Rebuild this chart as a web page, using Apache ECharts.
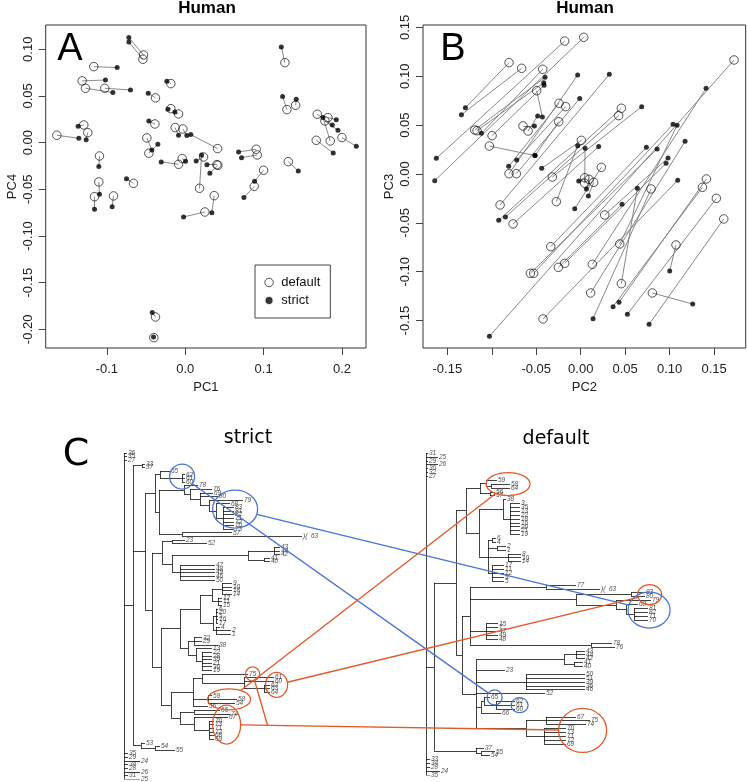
<!DOCTYPE html>
<html><head><meta charset="utf-8">
<script src="https://cdn.jsdelivr.net/npm/echarts@6/dist/echarts.min.js"></script>
<style>html,body{margin:0;padding:0;background:#fff}#c{width:747px;height:782px}</style>
</head><body><div id="c"></div>
<script>
// ---------------- Panel A : PC1 vs PC4 (paired samples) ----------------
const aDefaultPC1 = [-0.0532,-0.0540,-0.1166,-0.1315,-0.1272,-0.1026,-0.0379,-0.0183,-0.0183,-0.0085,-0.0387,-0.0128,-0.0030,0.0413,-0.0489,-0.0464,-0.1638,-0.1294,-0.1243,-0.1094,-0.1102,-0.1157,-0.0915,-0.0660,-0.0085,-0.0038,0.0183,0.0234,0.0417,0.0404,0.0251,0.0370,0.0906,0.0919,0.1000,0.0881,0.1272,0.1298,0.1409,0.1315,0.1685,0.1821,0.1851,0.2000,0.1672,0.1783,-0.0379,-0.0400];
const aDefaultPC4 = [0.0939,0.0893,0.0814,0.0661,0.0582,0.0582,0.0479,0.0632,0.0364,0.0307,0.0200,0.0161,0.0146,-0.0064,0.0050,-0.0114,0.0079,0.0189,0.0107,-0.0143,-0.0421,-0.0579,-0.0571,-0.0436,-0.0232,-0.0171,-0.0489,-0.0154,-0.0243,-0.0236,-0.0743,-0.0568,-0.0071,-0.0132,-0.0296,-0.0468,0.0857,0.0354,0.0400,-0.0204,0.0304,0.0268,0.0018,0.0054,0.0025,0.0232,-0.1868,-0.2089];
const aStrictPC1 = [-0.0719,-0.0719,-0.0868,-0.1017,-0.0923,-0.0698,-0.0472,-0.0234,-0.0221,-0.0132,-0.0464,-0.0085,0.0021,0.0072,-0.0426,-0.0349,-0.1357,-0.1366,-0.1264,-0.1102,-0.1094,-0.1157,-0.0932,-0.0749,-0.0306,0.0004,0.0209,0.0140,0.0315,0.0277,-0.0021,0.0340,0.0681,0.0719,0.0885,0.0749,0.1226,0.1243,0.1417,0.1443,0.1877,0.1928,0.1757,0.2183,0.1889,0.1949,-0.0421,-0.0404];
const aStrictPC4 = [0.1125,0.1079,0.0804,0.0671,0.0536,0.0564,0.0529,0.0657,0.0357,0.0329,0.0232,0.0079,0.0075,0.0086,-0.0079,-0.0018,0.0046,0.0175,0.0032,-0.0257,-0.0554,-0.0714,-0.0686,-0.0386,-0.0207,-0.0200,-0.0132,-0.0196,-0.0329,-0.0236,-0.0796,-0.0750,-0.0100,-0.0161,-0.0414,-0.0589,0.1025,0.0493,0.0464,-0.0304,0.0189,0.0246,0.0268,-0.0039,-0.0111,0.0132,-0.1821,-0.2082];
const aXTicks = [-0.1,0,0.1,0.2];
const aYTicks = [-0.2,-0.15,-0.1,-0.05,0,0.05,0.1];

// ---------------- Panel B : PC2 vs PC3 (paired samples) ----------------
const bDefaultPC2 = [-0.0180,0.0034,-0.0806,-0.0664,-0.0427,0.1725,-0.0495,-0.1192,-0.1166,-0.0997,-0.1027,-0.0649,-0.0592,-0.0244,-0.0169,-0.0247,0.0457,0.0427,0.0007,-0.0806,-0.0724,-0.0319,0.0232,0.0045,0.0094,0.0146,0.0045,-0.0907,-0.0274,-0.0761,0.0270,0.0791,0.1414,0.1369,0.1526,0.1609,-0.0337,0.0439,0.1072,-0.0566,-0.0529,-0.0251,-0.0180,0.0131,0.0457,0.0112,0.0806,-0.0424];
const bDefaultPC3 = [0.1360,0.1398,0.1139,0.1081,0.1071,0.1166,0.0852,0.0450,0.0443,0.0392,0.0286,0.0491,0.0440,0.0723,0.0689,0.0535,0.0672,0.0597,0.0344,0.0003,0.0003,-0.0031,0.0068,-0.0038,-0.0055,-0.0085,-0.0095,-0.0317,-0.0283,-0.0511,-0.0419,-0.0153,-0.0051,-0.0136,-0.0249,-0.0460,-0.0743,-0.0716,-0.0726,-0.1016,-0.1016,-0.0955,-0.0914,-0.0924,-0.1122,-0.1217,-0.1217,-0.1483];
const bStrictPC2 = [-0.1624,-0.1642,-0.1297,-0.1342,-0.1117,-0.1027,-0.0431,-0.0401,-0.0416,-0.0412,-0.0514,-0.0521,-0.0484,-0.0810,-0.0720,-0.0514,-0.0922,-0.0847,-0.0439,-0.0034,-0.0011,0.0686,-0.0067,-0.0022,0.0064,0.0086,0.0049,0.0322,-0.0034,0.0202,0.0982,0.0139,0.0431,0.0364,0.0525,0.0769,0.0739,0.1084,0.1001,0.0859,0.1039,0.0465,0.0960,0.1410,0.0637,0.1174,0.1260,0.1091];
const bStrictPC3 = [0.0160,-0.0068,0.0678,0.0607,0.0416,-0.1660,0.0583,0.0989,0.0934,0.0907,0.0188,0.0491,0.0593,0.0078,0.0143,0.0188,-0.0474,-0.0440,0.0058,0.1013,0.0771,0.0689,-0.0355,-0.0072,-0.0153,-0.0225,0.0263,0.1019,0.0290,0.0280,0.0164,-0.1480,-0.1313,-0.1357,-0.1435,-0.1538,0.0273,0.0498,-0.0992,0.0256,0.0508,-0.0310,0.0109,0.0876,-0.0147,0.0334,-0.1330,-0.0065];
const bXTicks = [-0.15,-0.1,-0.05,0,0.05,0.1,0.15];
const bXLabels = [-0.15,-0.05,0,0.05,0.1,0.15];
const bYTicks = [-0.15,-0.1,-0.05,0,0.05,0.1,0.15];

// ---------------- Panel C : dendrograms (node = [depth, children...], leaf = "label@tipDepth", "!" = broken branch) ----------------
const strictTree = [0,
 "36@3","35@3","27@3",
 [9,
   [18,"33@21","37@21"],
   [21,
     [31,
       [36,"65@46",[58,"62@61","61@61","60@61"]],
       [35,
         [60,"78@74",
           [66,"76@88",
             [76,"69@89","80@94",
               [85,"79@119",
                 [92,"68@106",
                   [99,"83@110","81@110","82@110","71@110","72@110","70@110","73@110"]]]]]],
         [58,"57@108","63@178!"]]],
     [28,
       [38,
         [48,"23@61","52@83"],
         [48,
           [124,[150,"43@156","44@156","42@156"],[140,"41@146","40@146"]],
           [56,"47@91","48@91","49@91","46@91","50@91"]]],
       [37,
         [56,
           [76,
             [88,[98,"9@108","10@108","18@108","14@108"],[94,"12@98","11@98","15@98"]],
             [89,[92,"6@94","20@94","5@94","16@94","17@94"],[92,"4@96","2@107","1@107"]]],
           [64,
             [70,"32@78","29@78","38@94"],
             [72,"13@88",[78,"22@88","28@88","39@88","21@88","30@88","19@88"]]]],
         [47,
           [69,
             [78,"75@124",[120,"61@150","60@150",[140,"62@146","63@146","64@146"]]],
             [84,"59@88","58@113","54@111"],
             "56@84"],
           [56,
             [70,"66@96","74@106"],
             [70,"67@104",[85,"70@90","73@90","71@90","72@90","68@90","69@90"]]]]]]],
   [17,"53@21",[31,"54@36","55@51"]]],
 "35@4","29@4","24@16","34@4","28@4","26@16","31@4","25@16"];

const defaultTree = [0,
 "31@2","25@12","29@2","26@12","30@2","32@2","27@2",
 [8,
   [30,
     [40,
       [54,[60,"59@71",[65,"58@84","64@84"]],[64,"56@69","57@69"]],
       [53,
         [77,"38@80",[84,"3@94","35@94","13@94","22@94","18@94","16@94","20@94","21@94","19@94"]],
         [62,[66,"6@70","4@70"],[71,"2@80","1@80"],[82,"8@95","10@95","14@95"],[66,"17@78","11@78","12@78","9@78","5@78"]]]],
     [36,
       [44,
         [120,"77@150","63@174!"],
         [150,
           [205,"83@219","80@219"],
           [190,"79@225",[200,"68@212",[208,"81@222","82@222","71@222","70@222"]]]],
         [60,"15@72","7@72","47@72","49@72","48@72"],
         [165,"78@186","76@189"]],
       [50,
         [138,[150,"43@159","44@159","42@159"],[148,"41@157","40@157"]],
         "23@79",
         [100,"50@159","51@159","39@159","36@159","46@159"],
         "52@119",
         [55,[58,"65@64",[70,"62@89","61@89","60@89"]],"66@75"],
         [100,[120,"67@150","75@164","74@160"],[118,"70@140","73@140","71@140","72@140","69@140"]]]]],
   [50,"37@58",[55,"55@69","54@64"]]],
 "33@4","34@4","28@4","24@14","35@4"];

// highlighted clades (contiguous leaf runs) and the links between the two trees
const strictGroups = {
  sBlueSmall: ['65','62','61','60'],
  sBlueBig: ['80','79','68','83','81','82','71','72'],
  sOrangeTiny: ['75'],
  sOrangeMid: ['61','60','62','63','64'],
  sOrange59: ['59','58','54'],
  sOrangeBig: ['66','74','67','70','73','71','72','68','69']
};
const defaultGroups = {
  dOrangeTop: ['59','58','64'],
  dOrangeSmall: ['83','80'],
  dBlueBig: ['79','68','81','82','71','70'],
  dBlueSmall1: ['65'],
  dBlueSmall2: ['62','61','60'],
  dOrangeBig: ['67','75','74','70','73','71','72','69']
};
const links = [
  ['sBlueSmall','dBlueSmall1','blue'],
  ['sBlueBig','dBlueBig','blue'],
  ['sOrange59','dOrangeTop','orange'],
  ['sOrangeMid','dOrangeSmall','orange'],
  ['sOrangeBig','dOrangeBig','orange']
];
const dropLinks = [['sOrangeTiny','sOrangeBig','dOrangeBig','orange']];

// ---------------- styles ----------------
const FONT = '"Liberation Sans", Arial, sans-serif';
const COLORS = {blue:'#4a74cf', orange:'#e35a2a'};
const groupSize = {
  sBlueSmall:[25,25], sBlueBig:[45,38], sOrangeTiny:[14,14], sOrangeMid:[22,25], sOrange59:[43,21], sOrangeBig:[28,39],
  dOrangeTop:[44,23], dOrangeSmall:[24,20], dBlueBig:[42,36], dBlueSmall1:[15,15], dBlueSmall2:[17,15], dOrangeBig:[48,44]
};
const LABEL_FS = 6.5, CHAR_W = 3.6;

function layoutTree(tree){
  const leaves=[], segs=[];
  function walk(node){
    if (typeof node === 'string'){
      const m = node.match(/^(\w+)@([\d.]+)(!?)$/);
      const lf = {label:m[1], x:+m[2], y:leaves.length, brk:m[3]==='!'};
      leaves.push(lf); return lf;
    }
    const d = node[0];
    const kids = node.slice(1).map(walk);
    kids.forEach(k => segs.push([[d,k.y],[k.x,k.y]]));
    const y0 = kids[0].y, y1 = kids[kids.length-1].y;
    segs.push([[d,y0],[d,y1]]);
    return {x:d, y:(y0+y1)/2};
  }
  walk(tree);
  return {leaves, segs};
}
const sLay = layoutTree(strictTree);
const dLay = layoutTree(defaultTree);

const zip = (a,b) => a.map((v,i)=>[v,b[i]]);
const pairLines = (x1,y1,x2,y2) => x1.map((v,i)=>({coords:[[v,y1[i]],[x2[i],y2[i]]]}));

function axisX(grid, min, max, ticks, labels, dec, name){
  return {gridIndex:grid, type:'value', min, max, name, nameLocation:'middle', nameGap:33,
    nameTextStyle:{fontSize:13, fontFamily:FONT, color:'#222'},
    axisLine:{show:false, onZero:false}, splitLine:{show:false},
    axisTick:{show:true, customValues:ticks, length:7, lineStyle:{color:'#444', width:1}},
    axisLabel:{customValues:labels, formatter:v=>(+v).toFixed(dec), margin:15, fontSize:13, fontFamily:FONT, color:'#222'}};
}
function axisY(grid, min, max, ticks, name, gap){
  return {gridIndex:grid, type:'value', min, max, name, nameLocation:'middle', nameGap:gap, nameRotate:90,
    nameTextStyle:{fontSize:13, fontFamily:FONT, color:'#222'},
    axisLine:{show:false, onZero:false}, splitLine:{show:false},
    axisTick:{show:true, customValues:ticks, length:7, lineStyle:{color:'#444', width:1}},
    axisLabel:{customValues:ticks, formatter:v=>(+v).toFixed(2), rotate:90, margin:11, fontSize:13, fontFamily:FONT, color:'#222'}};
}
function hiddenAxis(grid, min, max, inverse){
  return {gridIndex:grid, type:'value', min, max, inverse:!!inverse, show:false, splitLine:{show:false}};
}
const openSym = {color:'rgba(255,255,255,0)', borderColor:'#111', borderWidth:0.9};
const pairLineStyle = {color:'#7a7a7a', width:0.9, opacity:1};

function treeSeries(lay, idx){
  return [
    {type:'lines', coordinateSystem:'cartesian2d', xAxisIndex:idx, yAxisIndex:idx, silent:true,
     data: lay.segs.map(s=>({coords:s})), lineStyle:{color:'#111', width:0.8, opacity:1}, z:2},
    {type:'scatter', xAxisIndex:idx, yAxisIndex:idx, silent:true, symbolSize:0,
     data: lay.leaves.map(l=>[l.x, l.y, l.brk ? ')(  '+l.label : l.label]),
     label:{show:true, position:'right', distance:1, formatter:p=>p.value[2],
            fontSize:LABEL_FS, fontStyle:'italic', fontFamily:FONT, color:'#222'}, z:3}
  ];
}

const option = {
  animation:false,
  backgroundColor:'#fff',
  grid:[
    {left:45.7, top:25, width:320.3, height:323, show:true, borderColor:'#333', borderWidth:1, backgroundColor:'transparent'},
    {left:423, top:25, width:322.7, height:323, show:true, borderColor:'#333', borderWidth:1, backgroundColor:'transparent'},
    {left:124, top:453, width:200, height:326},
    {left:426, top:453, width:250, height:322}
  ],
  xAxis:[
    axisX(0, -0.178, 0.2307, aXTicks, aXTicks, 1, 'PC1'),
    axisX(1, -0.1774, 0.1856, bXTicks, bXLabels, 2, 'PC2'),
    hiddenAxis(2, 0, 200),
    hiddenAxis(3, 0, 250)
  ],
  yAxis:[
    axisY(0, -0.220, 0.126, aYTicks, 'PC4', 27),
    axisY(1, -0.178, 0.1524, bYTicks, 'PC3', 27),
    hiddenAxis(2, 0, sLay.leaves.length-1, true),
    hiddenAxis(3, 0, dLay.leaves.length-1, true)
  ],
  legend:{
    data:[{name:'default', icon:'circle', itemStyle:{color:'#fff', borderColor:'#111', borderWidth:0.9}},
          {name:'strict', icon:'circle', itemStyle:{color:'#000', borderColor:'#fff', borderWidth:1.6}}],
    orient:'vertical', left:255, top:265, itemWidth:8.5, itemHeight:8.5, itemGap:5,
    padding:[11,10,11,9], borderColor:'#444', borderWidth:1, selectedMode:false,
    textStyle:{fontSize:13, fontFamily:FONT, color:'#111', padding:[0,0,0,3]}
  },
  series:[
    {type:'lines', coordinateSystem:'cartesian2d', xAxisIndex:0, yAxisIndex:0, silent:true,
     data:pairLines(aDefaultPC1,aDefaultPC4,aStrictPC1,aStrictPC4), lineStyle:pairLineStyle, z:1},
    {name:'default', type:'scatter', xAxisIndex:0, yAxisIndex:0, data:zip(aDefaultPC1,aDefaultPC4), symbol:'circle', symbolSize:8.5, itemStyle:openSym, z:2},
    {name:'strict', type:'scatter', xAxisIndex:0, yAxisIndex:0, data:zip(aStrictPC1,aStrictPC4), symbol:'circle', symbolSize:5, itemStyle:{color:'#000'}, z:3},
    {type:'lines', coordinateSystem:'cartesian2d', xAxisIndex:1, yAxisIndex:1, silent:true,
     data:pairLines(bDefaultPC2,bDefaultPC3,bStrictPC2,bStrictPC3), lineStyle:pairLineStyle, z:1},
    {name:'default', type:'scatter', xAxisIndex:1, yAxisIndex:1, data:zip(bDefaultPC2,bDefaultPC3), symbol:'circle', symbolSize:8.5, itemStyle:openSym, z:2},
    {name:'strict', type:'scatter', xAxisIndex:1, yAxisIndex:1, data:zip(bStrictPC2,bStrictPC3), symbol:'circle', symbolSize:5, itemStyle:{color:'#000'}, z:3},
    ...treeSeries(sLay, 2),
    ...treeSeries(dLay, 3)
  ]
};

const chart = echarts.init(document.getElementById('c'), null, {renderer:'canvas'});
chart.setOption(option);

// ---- texts + highlight ellipses/links computed from leaf positions ----
function groupCenter(lay, idx, labels){
  const L = lay.leaves;
  for (let i=0; i+labels.length<=L.length; i++){
    if (labels.every((lab,k)=>L[i+k].label===lab)){
      let x0=1e9,x1=-1e9,y0=1e9,y1=-1e9;
      labels.forEach((lab,k)=>{
        const lf=L[i+k];
        const p=chart.convertToPixel({xAxisIndex:idx, yAxisIndex:idx},[lf.x, lf.y]);
        x0=Math.min(x0,p[0]); x1=Math.max(x1,p[0]+2+CHAR_W*lab.length);
        y0=Math.min(y0,p[1]); y1=Math.max(y1,p[1]);
      });
      return {cx:(x0+x1)/2, cy:(y0+y1)/2};
    }
  }
  return null;
}
const centers = {};
Object.keys(strictGroups).forEach(k=>centers[k]=groupCenter(sLay,2,strictGroups[k]));
Object.keys(defaultGroups).forEach(k=>centers[k]=groupCenter(dLay,3,defaultGroups[k]));
function colorOf(key){
  for (const l of links) if (l[0]===key||l[1]===key) return COLORS[l[2]];
  for (const l of dropLinks) if (l[0]===key) return COLORS[l[3]];
  return COLORS.blue;
}
function edgePoint(key, tx, ty){
  const c=centers[key], s=groupSize[key];
  const dx=tx-c.cx, dy=ty-c.cy, len=Math.hypot(dx,dy)||1;
  const ux=dx/len, uy=dy/len, a=s[0]/2, b=s[1]/2;
  const r=1/Math.sqrt((ux/a)*(ux/a)+(uy/b)*(uy/b));
  return [c.cx+ux*r, c.cy+uy*r];
}
const g = [];
Object.keys(centers).forEach(k=>{
  const c=centers[k]; if(!c) return;
  g.push({type:'ellipse', silent:true, z:10, shape:{cx:c.cx, cy:c.cy, rx:groupSize[k][0]/2, ry:groupSize[k][1]/2},
          style:{fill:null, stroke:colorOf(k), lineWidth:1.3}});
});
links.forEach(([a,b,col])=>{
  const ca=centers[a], cb=centers[b]; if(!ca||!cb) return;
  const p1=edgePoint(a,cb.cx,cb.cy), p2=edgePoint(b,ca.cx,ca.cy);
  g.push({type:'line', silent:true, z:10, shape:{x1:p1[0],y1:p1[1],x2:p2[0],y2:p2[1]}, style:{stroke:COLORS[col], lineWidth:1.4}});
});
dropLinks.forEach(([src,a,b,col])=>{
  const cs=centers[src], ca=centers[a], cb=centers[b]; if(!cs||!ca||!cb) return;
  const p1=edgePoint(a,cb.cx,cb.cy), p2=edgePoint(b,ca.cx,ca.cy);
  const tx=cs.cx+15, t=(tx-p1[0])/(p2[0]-p1[0]), ty=p1[1]+t*(p2[1]-p1[1]);
  const s=edgePoint(src,tx,ty);
  g.push({type:'line', silent:true, z:10, shape:{x1:s[0],y1:s[1],x2:tx,y2:ty}, style:{stroke:COLORS[col], lineWidth:1.4}});
});
const txt = (t,x,y,font)=>({type:'text', silent:true, z:20, x, y, style:{text:t, font, fill:'#000', align:'center', verticalAlign:'middle'}});
g.push(txt('Human',207,8,'bold 17px '+FONT));
g.push(txt('Human',585,8,'bold 17px '+FONT));
g.push(txt('A',70,50,'38px '+FONT));
g.push(txt('B',453,50,'38px '+FONT));
g.push(txt('C',76,455,'38px "DejaVu Sans", sans-serif'));
g.push(txt('strict',248,438,'19px "DejaVu Sans", sans-serif'));
g.push(txt('default',556,439,'19px "DejaVu Sans", sans-serif'));
chart.setOption({graphic:g});
</script>
</body></html>
